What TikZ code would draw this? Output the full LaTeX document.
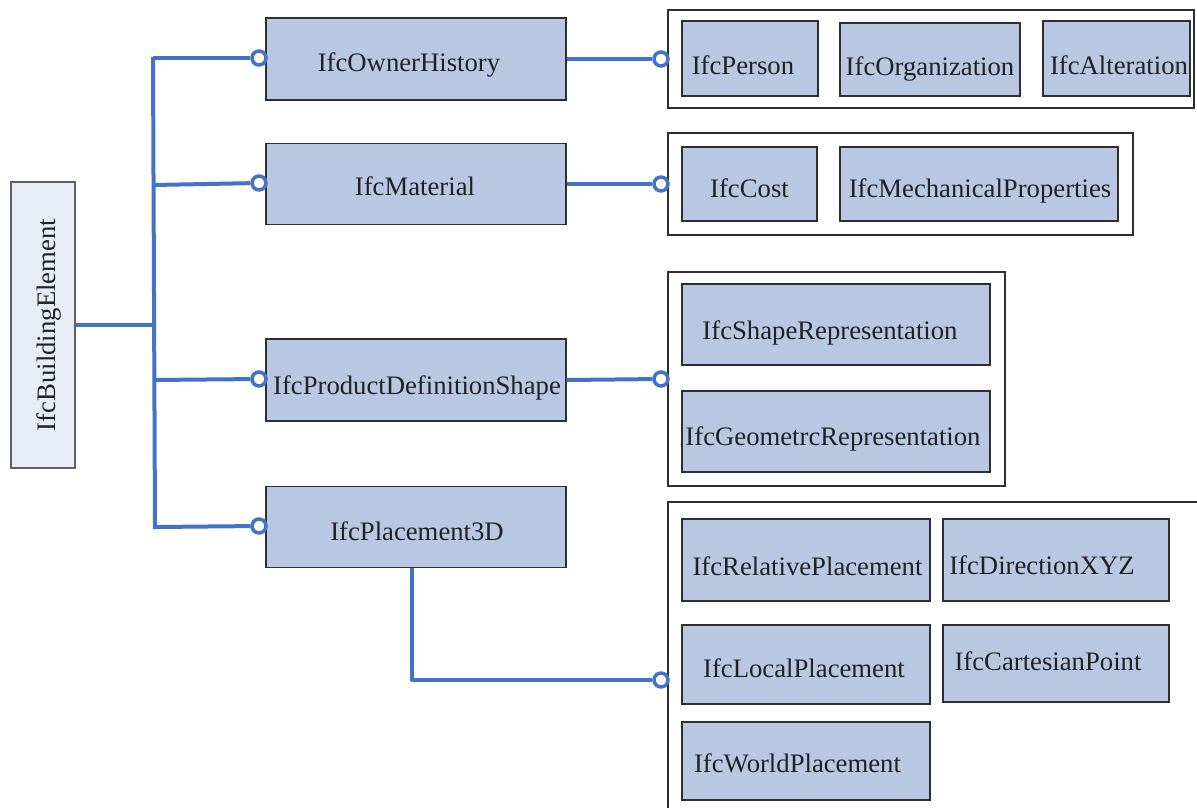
\documentclass[tikz,border=0pt]{standalone}
\usepackage{fontspec}
\setmainfont{LiberationSerif}[Extension=.ttf, UprightFont=*-Regular, BoldFont=*-Bold]
\definecolor{lblue}{RGB}{68,114,196}
\definecolor{boxfill}{RGB}{184,200,226}
\definecolor{lightfill}{RGB}{232,236,247}
\definecolor{edge}{RGB}{45,45,50}
\newcommand\dx[1]{\hspace*{#1}}
\begin{document}
\begin{tikzpicture}[x=1pt,y=-1pt,
  every node/.style={font=\rmfamily\fontsize{26.7}{30}\selectfont, text=black!87},
  cls/.style={draw=edge, line width=1.3pt, fill=boxfill, inner sep=0pt, text depth=0pt},
  rootbox/.style={draw=edge!75, line width=1.3pt, fill=lightfill, inner sep=0pt, text depth=0pt},
  group/.style={draw=edge, line width=1.3pt, fill=white, inner sep=0pt},
  link/.style={draw=lblue, line width=4pt},
  port/.style={circle, draw=lblue, fill=white, line width=3.5pt, minimum size=14pt, inner sep=0pt}]
\clip (0,0) rectangle (1197,807);
\fill[white] (0,0) rectangle (1197,807);

% root
\node[rootbox, rotate=90, minimum width=286, minimum height=64, text height=24pt] (be) at (43,325) {IfcBuildingElement};

% middle classes
\node[cls, minimum width=300, minimum height=82, text height=25.4pt] (oh) at (416,59) {\dx{-14pt}IfcOwnerHistory};
\node[cls, minimum width=300, minimum height=81, text height=23pt] (mat) at (416,184) {\dx{-2pt}IfcMaterial};
\node[cls, minimum width=300, minimum height=82, text height=28pt] (pds) at (416,380) {\dx{2pt}IfcProductDefinitionShape};
\node[cls, minimum width=300, minimum height=81, text height=27pt] (p3d) at (416,527) {\dx{2pt}IfcPlacement3D};

% groups
\node[group, minimum width=526, minimum height=98] (g1) at (931,59) {};
\node[group, minimum width=465, minimum height=102] (g2) at (900.5,184) {};
\node[group, minimum width=337, minimum height=214] (g3) at (836.5,379) {};
\node[group, minimum width=540, minimum height=330] (g4) at (938,667) {};

% group 1
\node[cls, minimum width=136, minimum height=75, text height=31pt] (per) at (750,58.5) {\dx{-14pt}IfcPerson};
\node[cls, minimum width=180, minimum height=73, text height=32pt] (org) at (930,59.5) {IfcOrganization};
\node[cls, minimum width=147, minimum height=75, text height=31pt] (alt) at (1116.5,58.5) {\dx{5pt}IfcAlteration};
% group 2
\node[cls, minimum width=135, minimum height=74, text height=26.6pt] (cost) at (749.5,184) {IfcCost};
\node[cls, minimum width=278, minimum height=74, text height=26.6pt] (mech) at (979,184) {\dx{2pt}IfcMechanicalProperties};
% group 3
\node[cls, minimum width=308, minimum height=81, text height=29pt] (shape) at (836,324.5) {\dx{-12pt}IfcShapeRepresentation};
\node[cls, minimum width=308, minimum height=81, text height=27pt] (geo) at (836,431.5) {\dx{-6pt}IfcGeometrcRepresentation};
% group 4
\node[cls, minimum width=248, minimum height=82, text height=31.4pt] (rel) at (806,560) {\dx{3pt}IfcRelativePlacement};
\node[cls, minimum width=226, minimum height=82, text height=28pt] (dir) at (1056,560) {\dx{-28pt}IfcDirectionXYZ};
\node[cls, minimum width=248, minimum height=79, text height=25.6pt] (loc) at (806,664.5) {\dx{-4pt}IfcLocalPlacement};
\node[cls, minimum width=226, minimum height=77, text height=14.4pt] (cart) at (1056,663.5) {\dx{-16pt}IfcCartesianPoint};
\node[cls, minimum width=248, minimum height=78, text height=23.4pt] (world) at (806,761) {\dx{-17pt}IfcWorldPlacement};

% bus
\coordinate (btop) at (153,57);
\coordinate (bbot) at (155,529);
\coordinate (jbe) at (153,325);
\coordinate (j1) at (153,58);
\coordinate (j2) at (153,185);
\coordinate (j3) at (153,380);
\coordinate (j4) at (155,527);
\draw[link] (btop) -- (bbot);
\draw[link] (be.south |- jbe) -- (jbe);

% ports
\node[port] (c1) at (259,58) {};
\node[port] (c2) at (259,183) {};
\node[port] (c3) at (259,379) {};
\node[port] (c4) at (259,526) {};
\node[port] (d1) at (661,59) {};
\node[port] (d2) at (661,184) {};
\node[port] (d3) at (661,379) {};
\node[port] (d4) at (661,680) {};

\draw[link] (j1) -- (c1);
\draw[link] (j2) -- (c2);
\draw[link] (j3) -- (c3);
\draw[link] (j4) -- (c4);
\draw[link] (oh.east |- d1) -- (d1);
\draw[link] (mat.east |- d2) -- (d2);
\draw[link] (pds.east) -- (d3);
\coordinate (pbend) at (412,680);
\draw[link, line join=round] (p3d.south -| pbend) -- (pbend) -- (d4);
\end{tikzpicture}
\end{document}
